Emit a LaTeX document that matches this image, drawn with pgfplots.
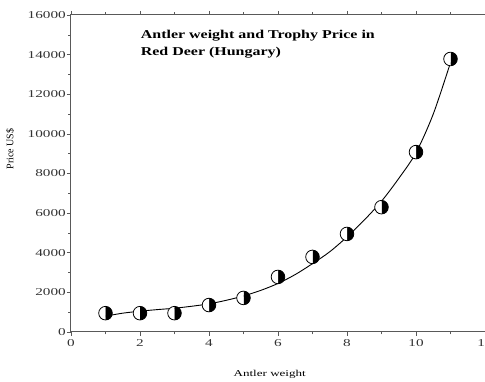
\documentclass[border=0pt]{standalone}
\usepackage{graphicx}
\usepackage{pgfplots}
\pgfplotsset{compat=1.18}
\usepackage{fontspec}
\setmainfont{Liberation Serif}
\usetikzlibrary{plotmarks}
\begin{document}
\begin{tikzpicture}
\begin{axis}[
  scale only axis,
  width=414pt, height=317pt,
  xmin=0, xmax=12, ymin=0, ymax=16000,
  xtick={0,2,...,12}, ytick={0,2000,...,16000},
  minor xtick={1,3,...,11}, minor ytick={1000,3000,...,15000},
  tick align=outside,
  major tick length=4pt, minor tick length=2.5pt,
  axis line style={line width=1pt, black!65},
  every tick/.style={black!65, line width=0.6pt},
  scaled y ticks=false,
  /pgf/number format/assume math mode=true,
  /pgf/number format/1000 sep={},
  yticklabel={\scalebox{1.45}[1]{\pgfmathprintnumber{\tick}}},
  xticklabel={\scalebox{1.45}[1]{\pgfmathprintnumber{\tick}}},
  yticklabel style={font=\fontsize{10.5}{12}\selectfont, text=black!80, inner sep=1pt},
  xticklabel style={font=\fontsize{10.5}{12}\selectfont, text=black!80},
  xlabel={\scalebox{1.45}[1]{Antler weight}}, ylabel={Price US\$},
  xlabel style={font=\fontsize{9}{11}\selectfont, at={(axis description cs:0.48,0)}, anchor=center, yshift=-42pt},
  ylabel style={font=\fontsize{10}{11}\selectfont, at={(axis description cs:-0.1473,0.577)}, anchor=center, rotate=0},
  clip=false,
]
\coordinate (sw) at (rel axis cs:0,0);
\coordinate (ne) at (rel axis cs:1,1);
\addplot[smooth, black, line width=0.9pt, no marks] coordinates {
(1,800) (1.5,950) (2,1050) (2.5,1130) (3,1200) (3.5,1300) (4,1420) (4.5,1600)
(5,1820) (5.5,2100) (6,2450) (6.5,2900) (7,3450) (7.5,4050) (8,4800) (8.5,5650)
(9,6600) (9.5,7750) (10,9050) (10.5,11000) (11,13600)};
\addplot[only marks, mark=halfcircle*, mark size=6.8pt,
  mark options={fill=black, draw=black, line width=0.8pt, rotate=-90}] coordinates {
(1,950) (2,950) (3,950) (4,1360) (5,1720) (6,2780) (7,3790) (8,4950) (9,6300) (10,9080) (11,13780)};
\node[anchor=north west, align=left, font=\fontsize{12}{17}\selectfont\bfseries, inner sep=0pt]
  at (axis cs:2.02,15250) {\scalebox{1.33}[1]{Antler weight and Trophy Price in}\\\scalebox{1.33}[1]{Red Deer (Hungary)}};
\end{axis}
\pgfresetboundingbox
\path ([xshift=-71pt,yshift=-50pt]sw) rectangle ([yshift=15pt]ne);
\end{tikzpicture}
\end{document}
